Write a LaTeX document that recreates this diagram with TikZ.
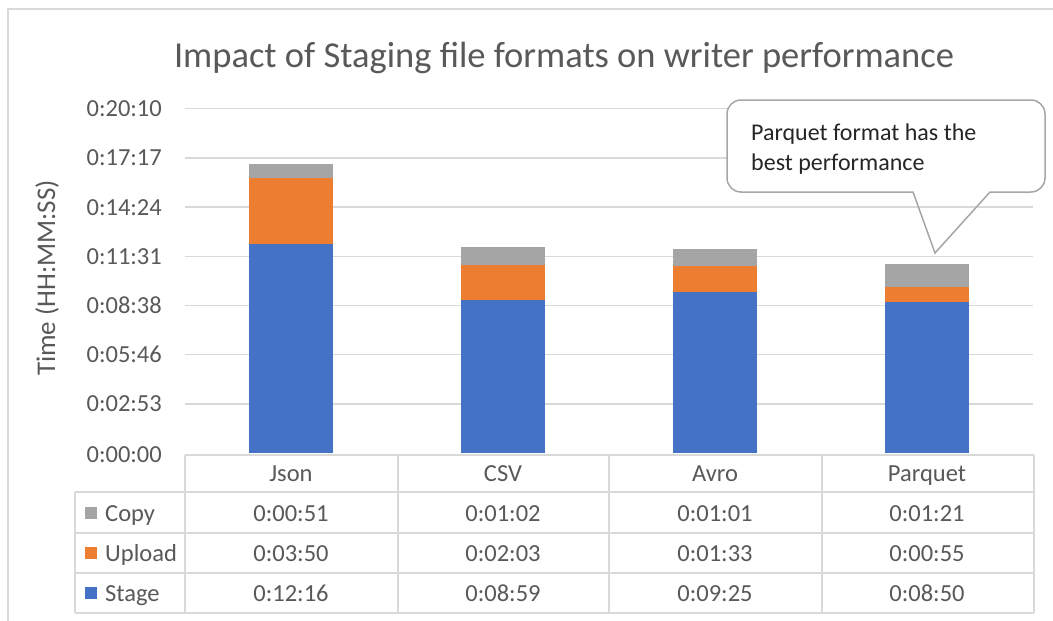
\documentclass[tikz,border=0pt]{standalone}
\usepackage{fontspec}
\setmainfont{Carlito}
\definecolor{stageblue}{HTML}{4472C4}
\definecolor{uploadorange}{HTML}{ED7D31}
\definecolor{copygray}{HTML}{A5A5A5}
\definecolor{txtgray}{HTML}{595959}
\definecolor{gridgray}{HTML}{D9D9D9}
\definecolor{calloutgray}{HTML}{A6A6A6}
\begin{document}
\begin{tikzpicture}[x=1pt,y=-1pt,
  lbl/.style={inner sep=0pt,text=txtgray,font=\fontsize{24.5}{29}\selectfont},
  gridline/.style={draw=gridgray,line width=1.5pt},
  tabline/.style={draw=gridgray,line width=1.5pt},
  calltext/.style={inner sep=0pt,anchor=base west,text=black!85,font=\fontsize{24}{30}\selectfont}]
\useasboundingbox (0,0) rectangle (1053,621);
\fill[white] (0,0) rectangle (1053,621);
% outer chart border
\draw[gridgray,line width=2pt] (8,621) -- (8,9) -- (1053,9);
% title
\node[lbl,anchor=base,font=\fontsize{36.5}{40}\selectfont] (title) at (564,67) {Impact of Staging file formats on writer performance};
% y axis title
\node[lbl,rotate=90,font=\fontsize{27}{30}\selectfont] (ytitle) at (47,278) {Time (HH:MM:SS)};
% gridlines and y labels
\foreach \k/\t in {1/0:02:53,2/0:05:46,3/0:08:38,4/0:11:31,5/0:14:24,6/0:17:17,7/0:20:10}{
  \draw[gridline] (185,{453-49.18*\k}) -- (1033,{453-49.18*\k});
  \node[lbl,anchor=base east] (y\k) at (162,{453-49.18*\k+8}) {\t};
}
\node[lbl,anchor=base east] (y0) at (162,462) {0:00:00};
% bars
\def\s{0.2843}
\foreach \c/\st/\up/\cp in {291/736/230/51, 503/539/123/62, 715/565/93/61, 927/530/55/81}{
  \fill[stageblue] ({\c-42},453) rectangle ({\c+42},{453-\s*\st});
  \fill[uploadorange] ({\c-42},{453-\s*\st}) rectangle ({\c+42},{453-\s*(\st+\up)});
  \fill[copygray] ({\c-42},{453-\s*(\st+\up)}) rectangle ({\c+42},{453-\s*(\st+\up+\cp)});
}
% data table
\draw[tabline] (185,455) -- (1034,455);
\foreach \yy in {492,533,573,613}{\draw[tabline] (75,\yy) -- (1034,\yy);}
\foreach \xx in {185,398,609,822,1034}{\draw[tabline] (\xx,455) -- (\xx,613);}
\draw[tabline] (75,492) -- (75,613);
% header
\foreach \c/\n/\nm in {291/Json/hJson,503/CSV/hCSV,715/Avro/hAvro,927/Parquet/hParquet}{
  \node[lbl,anchor=base] (\nm) at (\c,481) {\n};
}
% legend cells
\fill[copygray] (85,507) rectangle (97,519);
\fill[uploadorange] (85,547) rectangle (97,559);
\fill[stageblue] (85,587) rectangle (97,599);
\node[lbl,anchor=base west] (lcopy) at (105,521) {Copy};
\node[lbl,anchor=base west] (lupload) at (105,561) {Upload};
\node[lbl,anchor=base west] (lstage) at (105,601) {Stage};
% values
\foreach \c/\a/\b/\d/\i in {291/0:00:51/0:03:50/0:12:16/1, 503/0:01:02/0:02:03/0:08:59/2, 715/0:01:01/0:01:33/0:09:25/3, 927/0:01:21/0:00:55/0:08:50/4}{
  \node[lbl,anchor=base] (vc\i) at (\c,521) {\a};
  \node[lbl,anchor=base] (vu\i) at (\c,561) {\b};
  \node[lbl,anchor=base] (vs\i) at (\c,601) {\d};
}
% callout
\fill[white,rounded corners=14pt] (727,100) rectangle (1045,192);
\draw[calloutgray,line width=1.5pt,rounded corners=14pt]
  (820,192) -- (727,192) -- (727,100) -- (1045,100) -- (1045,192) [sharp corners] -- (990,192) -- (935,253) -- (913,192) -- cycle;
\node[calltext] (call1) at (751,140) {Parquet format has the};
\node[calltext] (call2) at (751,170) {best performance};
\end{tikzpicture}
\end{document}
